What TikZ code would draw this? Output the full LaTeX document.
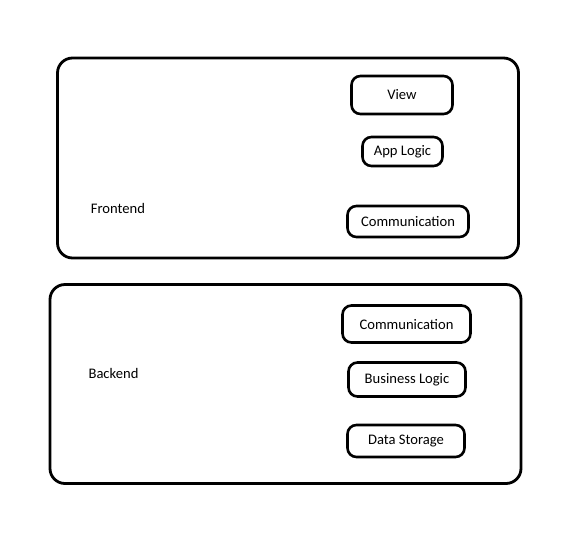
\documentclass[tikz,border=0pt]{standalone}
\usepackage{fontspec}
\setmainfont{Carlito}
\begin{document}
\begin{tikzpicture}[x=1pt,y=-1pt,
  bigbox/.style={draw=black,line width=2.8pt,rounded corners=15pt,inner sep=0pt},
  smallbox/.style={draw=black,line width=2.6pt,rounded corners=9pt,inner sep=0pt,font=\fontsize{14.6}{16}\selectfont},
  lbl/.style={font=\fontsize{14.6}{16}\selectfont,inner sep=0pt}]
\useasboundingbox (0,0) rectangle (584,539);
% containers
\node[bigbox,minimum width=461pt,minimum height=200pt] (front) at (288,158) {};
\node[bigbox,minimum width=471pt,minimum height=199pt] (back) at (285.5,384) {};
\node[lbl] (frontlbl) at (118,208) {Frontend};
\node[lbl] (backlbl) at (113.5,373) {Backend};
% frontend parts
\node[smallbox,minimum width=101pt,minimum height=38pt] (view) at (402,95) {View};
\node[smallbox,minimum width=80pt,minimum height=29pt] (applogic) at (402.5,151.5) {App Logic};
\node[smallbox,minimum width=121pt,minimum height=31pt] (fcomm) at (408,221.5) {Communication};
% backend parts
\node[smallbox,minimum width=128pt,minimum height=37pt] (bcomm) at (406.5,324) {Communication};
\node[smallbox,minimum width=117pt,minimum height=34pt] (bizlogic) at (407,379.5) {Business Logic};
\node[smallbox,minimum width=117pt,minimum height=32pt] (storage) at (406,441) {Data Storage};
\end{tikzpicture}
\end{document}
